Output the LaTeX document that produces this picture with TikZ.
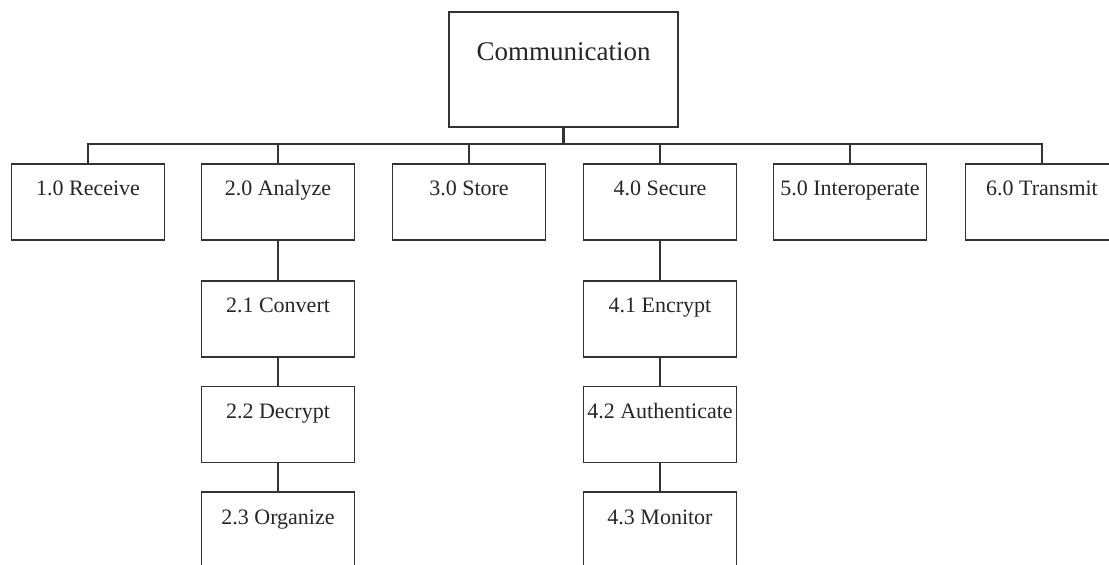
\documentclass[tikz,border=0pt]{standalone}
\usepackage{fontspec}
\setmainfont{Liberation Serif}
\usetikzlibrary{positioning}

\tikzset{
  box/.style={draw=black!80, line width=1.8pt, inner sep=0pt, text=black!85},
  task/.style={box, minimum width=153pt, text height=32pt, text depth=44pt,
    font=\fontsize{22}{26}\selectfont},
  link/.style={draw=black!80, line width=1.8pt}
}

\begin{document}
\begin{tikzpicture}[x=1pt,y=-1pt,node distance=28pt]
  \useasboundingbox (0,0) rectangle (1109,565);
  \clip (0,0) rectangle (1109,565);

  \node[box, anchor=north, minimum width=229pt, text height=49pt, text depth=66pt,
    font=\fontsize{27}{32}\selectfont] (comm) at (563.5,11) {Communication};

  \node[task, anchor=north] (receive) at (88,163) {1.0 Receive};
  \node[task, anchor=north] (analyze) at (278,163) {2.0 Analyze};
  \node[task, anchor=north] (store) at (469,163) {3.0 Store};
  \node[task, anchor=north] (secure) at (660,163) {4.0 Secure};
  \node[task, anchor=north] (interop) at (850,163) {5.0 Interoperate};
  \node[task, anchor=north] (transmit) at (1042,163) {6.0 Transmit};

  \node[task] (convert) [below=39pt of analyze] {2.1 Convert};
  \node[task] (decrypt) [below=of convert] {2.2 Decrypt};
  \node[task] (organize) [below=of decrypt] {2.3 Organize};

  \node[task] (encrypt) [below=39pt of secure] {4.1 Encrypt};
  \node[task] (authent) [below=of encrypt] {4.2 Authenticate};
  \node[task] (monitor) [below=of authent] {4.3 Monitor};

  \coordinate (bus) at (563.5,144);

  \draw[link, line width=3pt] (comm.south) -- (bus);
  \draw[link] (receive.north) -- (receive.north |- bus) -| (transmit.north);
  \foreach \n in {analyze,store,secure,interop}
    \draw[link] (\n.north) -- (\n.north |- bus);

  \path[link]
    (analyze) edge (convert)
    (convert) edge (decrypt)
    (decrypt) edge (organize)
    (secure) edge (encrypt)
    (encrypt) edge (authent)
    (authent) edge (monitor)
    ;
\end{tikzpicture}
\end{document}
